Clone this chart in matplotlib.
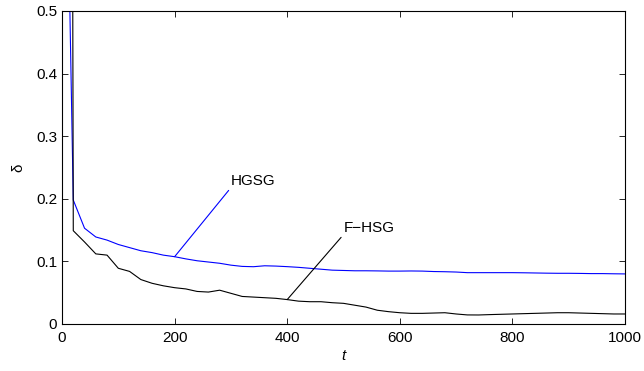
import matplotlib
matplotlib.use("Agg")
import matplotlib.pyplot as plt
import numpy as np

plt.rcParams['font.family'] = ['Liberation Sans', 'DejaVu Sans']

t = list(range(0, 1001, 20))
hgsg = [1.2, 0.198, 0.153, 0.139, 0.134, 0.127, 0.122, 0.117, 0.114, 0.110,
        0.1075, 0.104, 0.101, 0.099, 0.097, 0.094, 0.092, 0.0915, 0.093, 0.0925,
        0.0916, 0.0905, 0.089, 0.0875, 0.086, 0.0855, 0.085, 0.085, 0.0848, 0.0845,
        0.0845, 0.0847, 0.0845, 0.0838, 0.0835, 0.083, 0.082, 0.082, 0.082, 0.082,
        0.082, 0.0818, 0.0815, 0.0812, 0.081, 0.081, 0.0808, 0.0805, 0.0805, 0.0802,
        0.080]
fhsg = [8.0, 0.149, 0.131, 0.112, 0.110, 0.089, 0.084, 0.071, 0.065, 0.061,
        0.058, 0.056, 0.052, 0.051, 0.054, 0.049, 0.044, 0.043, 0.042, 0.041,
        0.039, 0.0365, 0.0356, 0.0356, 0.034, 0.033, 0.030, 0.027, 0.022, 0.0197,
        0.018, 0.017, 0.017, 0.0175, 0.018, 0.016, 0.0145, 0.0144, 0.015, 0.0155,
        0.016, 0.0165, 0.017, 0.0175, 0.018, 0.018, 0.0175, 0.017, 0.0165, 0.016,
        0.016]

fig = plt.figure(figsize=(6.44, 3.71), dpi=100)
ax = fig.add_axes([0.0963, 0.1267, 0.8742, 0.8437])
ax.plot(t, hgsg, color='#0000ff', lw=0.8)
ax.plot(t, fhsg, color='black', lw=0.8)

ax.set_xlim(0, 1000)
ax.set_ylim(0, 0.5)
ax.set_xticks([0, 200, 400, 600, 800, 1000])
ax.set_yticks([0, 0.1, 0.2, 0.3, 0.4, 0.5])
ax.set_yticklabels(['0', '0.1', '0.2', '0.3', '0.4', '0.5'])
ax.tick_params(direction='in', top=True, right=True, labelsize=11, length=4, width=0.6)
ax.tick_params(axis='x', pad=5)
for s in ax.spines.values():
    s.set_linewidth(0.8)

ax.set_xlabel('t', fontstyle='italic', fontsize=11, labelpad=3)
ax.set_ylabel('δ', fontsize=11, labelpad=8)

ax.annotate('HGSG', xy=(200, 0.1075), xytext=(300, 0.229), fontsize=11,
            va='center', ha='left',
            arrowprops=dict(arrowstyle='-', color='#0000ff', lw=0.8, shrinkA=0, shrinkB=0,
                            relpos=(0, 0)))
ax.annotate('F\u2212HSG', xy=(400, 0.039), xytext=(500, 0.154), fontsize=11,
            va='center', ha='left',
            arrowprops=dict(arrowstyle='-', color='black', lw=0.8, shrinkA=0, shrinkB=0,
                            relpos=(0, 0)))

fig.savefig('out.png', dpi=100)
